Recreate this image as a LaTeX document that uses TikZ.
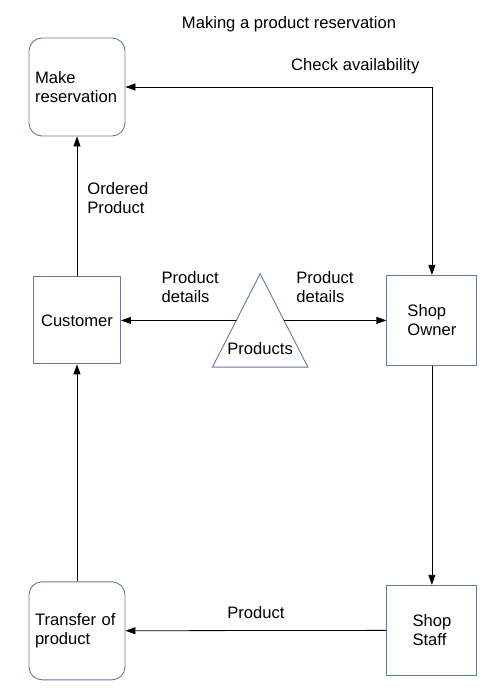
\documentclass[tikz,border=0pt]{standalone}
\usepackage{fontspec}
\setmainfont{Liberation Sans}
\usetikzlibrary{arrows.meta, positioning, calc}

\definecolor{boxblue}{RGB}{98,122,158}

\begin{document}
\begin{tikzpicture}[
    x=1pt, y=1pt,
    font=\fontsize{16.6}{19}\selectfont,
    % Styles
    base/.style = {rectangle, draw=boxblue, line width=0.9pt, inner sep=0pt},
    activity/.style = {base, rounded corners=13pt, text width=84pt, inner xsep=6pt, minimum height=98pt, align=left},
    actor/.style = {base, minimum width=90pt, minimum height=90pt, align=left},
    store/.style = {minimum width=95pt, minimum height=93pt, inner sep=0pt, text height=73pt, text depth=4pt},
    flowlabel/.style = {align=left, inner sep=2pt},
    arrow/.style = {-{Triangle[length=10pt, width=7pt]}, line width=0.8pt, draw=black},
    twoway/.style = {arrow, {Triangle[length=10pt, width=7pt]}-{Triangle[length=10pt, width=7pt]}}
]
\useasboundingbox (0,0) rectangle (487,-693);

% --- TITLE ---
\node (title) at (289,-24) {Making a product reservation};

% --- LEFT COLUMN ---
\node[activity] (reserve) at (77,-87) {Make\\reservation\\[3pt]};
\node[actor, minimum width=87pt, minimum height=87pt, below=140pt of reserve] (customer) {Customer};
\node[activity, below=217pt of customer] (transfer) {Transfer of\\product};

% --- PRODUCTS STORE ---
\node[store, right=91.5pt of customer] (products) {Products};
\draw[base] (products.south west) -- (products.north) -- (products.south east) -- cycle;

% --- RIGHT COLUMN ---
\node[actor, right=265.5pt of customer] (owner) {Shop\\Owner};
\node[actor, below=219pt of owner] (staff) {Shop\\Staff};

% --- FLOWS ---
\draw[arrow] (customer) -- node[flowlabel, right=8pt, pos=0.56] {Ordered\\Product} (reserve);
\draw[twoway] (reserve.east) -| node[flowlabel, above=11pt, pos=0.375] {Check availability} (owner.north);
\draw[arrow] ($(products.north)!0.5!(products.south west)$) -- node[flowlabel, above=15pt, pos=0.4] {Product\\details} (customer.east);
\draw[arrow] ($(products.north)!0.5!(products.south east)$) -- node[flowlabel, above=15pt, pos=0.4] {Product\\details} (owner.west);
\draw[arrow] (owner) -- (staff);
\draw[arrow] (staff) -- node[flowlabel, above=9pt] {Product} (transfer);
\draw[arrow] (transfer) -- (customer);

\end{tikzpicture}
\end{document}
